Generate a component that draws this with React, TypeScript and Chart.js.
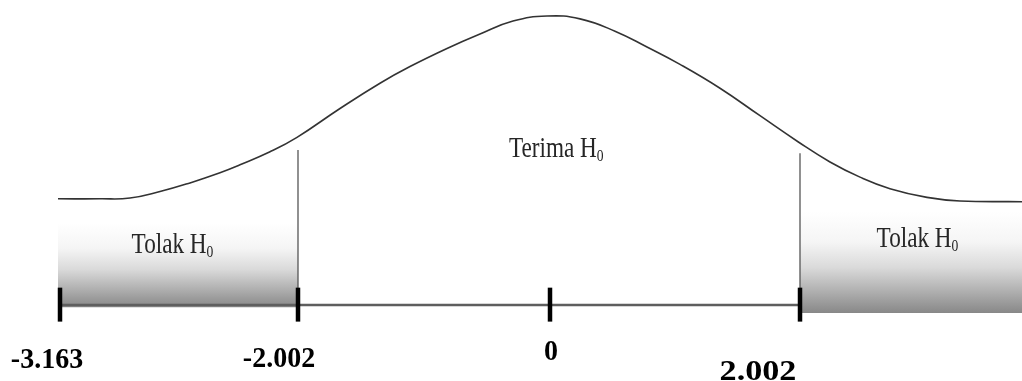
import React, { useEffect, useRef } from "react";
import { Chart, registerables } from "chart.js";

Chart.register(...registerables);

// Curve (z position, density height)
const curveZ = [-3.936, -3.6, -3.36, -3.12, -2.88, -2.64, -2.48, -2.24, -2.024, -1.68, -1.36, -1.12, -0.824, -0.56, -0.296, -0.024, 0.24, 0.52, 0.776, 1.04, 1.36, 1.68, 1.984, 2.24, 2.48, 2.72, 3.016, 3.28, 3.776];
const curveDensity = [0.147, 0.147, 0.148, 0.157, 0.169, 0.183, 0.194, 0.212, 0.232, 0.272, 0.307, 0.330, 0.355, 0.375, 0.393, 0.400, 0.396, 0.379, 0.357, 0.333, 0.300, 0.262, 0.226, 0.198, 0.177, 0.161, 0.149, 0.144, 0.143];

// Axis ticks
const tickZ = [-3.92, -2.016, 0, 2.0];
const tickLabels = ["-3.163", "-2.002", "0", "2.002"];
const tickLabelZ = [-4.024, -2.168, 0.008, 1.664];
const tickLabelLevel = [-0.0872, -0.0858, -0.0761, -0.1038];
const tickLabelStretch = [1, 1, 1, 1.22];
const tickTop = 0.024;
const tickBottom = -0.023;

// Critical boundaries (vertical lines)
const boundaryZ = [-2.016, 2.0];
const boundaryTop = [0.2145, 0.21];

// Rejection regions (shaded)
const regionStart = [-3.936, 2.0];
const regionEnd = [-2.016, 3.8];
const regionTop = [0.1135, 0.129];
const regionBottom = [-0.003, -0.011];

// Region labels
const regionText = ["Tolak H", "Terima H", "Tolak H"];
const regionSub = ["0", "0", "0"];
const regionZ = [-3.02, 0.05, 2.94];
const regionLevel = [0.072, 0.205, 0.08];

const baselineStart = -3.92;
const baselineEnd = 2.0;

const X_MIN = -4.4;
const X_MAX = 3.776;
const Y_MIN = -0.10519;
const Y_MAX = 0.42215;

export default function App() {
  const ref = useRef<HTMLCanvasElement | null>(null);

  useEffect(() => {
    document.body.style.margin = "0";
    const canvas = ref.current;
    if (!canvas) return;

    const datasets: any[] = [];

    regionStart.forEach((s, i) => {
      datasets.push({
        data: [
          { x: s, y: regionTop[i] },
          { x: regionEnd[i], y: regionTop[i] },
        ],
        borderColor: "rgba(0,0,0,0)",
        borderWidth: 0,
        pointRadius: 0,
        fill: { value: regionBottom[i] },
        order: 6,
        backgroundColor: (c: any) => {
          const chart = c.chart;
          const ys = chart.scales?.y;
          if (!ys) return "#bbbbbb";
          const t = ys.getPixelForValue(regionTop[i]);
          const b = ys.getPixelForValue(regionBottom[i]);
          if (!isFinite(t) || !isFinite(b) || t === b) return "#bbbbbb";
          const g = chart.ctx.createLinearGradient(0, t, 0, b);
          g.addColorStop(0, "#ffffff");
          g.addColorStop(0.3, "#f5f5f5");
          g.addColorStop(0.55, "#dadada");
          g.addColorStop(0.8, "#adadad");
          g.addColorStop(1, "#888888");
          return g;
        },
      });
    });

    datasets.push({
      data: [
        { x: baselineStart, y: 0 },
        { x: baselineEnd, y: 0 },
      ],
      borderColor: "#5e5e5e",
      borderWidth: 2.5,
      pointRadius: 0,
      fill: false,
      order: 5,
    });

    boundaryZ.forEach((z, i) => {
      datasets.push({
        data: [
          { x: z, y: 0 },
          { x: z, y: boundaryTop[i] },
        ],
        borderColor: "#555555",
        borderWidth: 1.3,
        pointRadius: 0,
        fill: false,
        order: 4,
      });
    });

    datasets.push({
      data: curveZ.map((z, i) => ({ x: z, y: curveDensity[i] })),
      borderColor: "#333333",
      borderWidth: 1.6,
      pointRadius: 0,
      fill: false,
      tension: 0.45,
      order: 3,
    });

    tickZ.forEach((z) => {
      datasets.push({
        data: [
          { x: z, y: tickBottom },
          { x: z, y: tickTop },
        ],
        borderColor: "#000000",
        borderWidth: 4.5,
        borderCapStyle: "butt",
        pointRadius: 0,
        fill: false,
        order: 1,
      });
    });

    const labelPlugin = {
      id: "labels",
      afterDatasetsDraw(chart: any) {
        const { ctx } = chart;
        const xs = chart.scales.x;
        const ys = chart.scales.y;
        ctx.save();
        // tick labels
        ctx.fillStyle = "#000000";
        ctx.textBaseline = "alphabetic";
        ctx.textAlign = "center";
        ctx.font = "bold 28px 'Liberation Serif', 'Times New Roman', serif";
        tickLabels.forEach((t, i) => {
          const px = xs.getPixelForValue(tickLabelZ[i]);
          const py = ys.getPixelForValue(tickLabelLevel[i]);
          ctx.save();
          ctx.translate(px, py);
          ctx.scale(tickLabelStretch[i], 1.08);
          ctx.fillText(t, 0, 0);
          ctx.restore();
        });
        // region labels
        ctx.fillStyle = "#262626";
        regionText.forEach((t, i) => {
          const px = xs.getPixelForValue(regionZ[i]);
          const py = ys.getPixelForValue(regionLevel[i]);
          ctx.save();
          ctx.translate(px, py);
          ctx.scale(0.8, 1);
          ctx.font = "29px 'Liberation Serif', 'Times New Roman', serif";
          const w1 = ctx.measureText(t).width;
          ctx.font = "17px 'Liberation Serif', 'Times New Roman', serif";
          const w2 = ctx.measureText(regionSub[i]).width;
          const start = -(w1 + w2) / 2;
          ctx.textAlign = "left";
          ctx.font = "29px 'Liberation Serif', 'Times New Roman', serif";
          ctx.fillText(t, start, 0);
          ctx.font = "17px 'Liberation Serif', 'Times New Roman', serif";
          ctx.fillText(regionSub[i], start + w1, 4);
          ctx.restore();
        });
        ctx.restore();
      },
    };

    const chart = new Chart(canvas, {
      type: "scatter",
      data: { datasets },
      options: {
        animation: false,
        responsive: false,
        maintainAspectRatio: false,
        showLine: true,
        layout: { padding: 0 },
        plugins: {
          legend: { display: false },
          tooltip: { enabled: false },
        },
        elements: { point: { radius: 0, hoverRadius: 0 } },
        scales: {
          x: { type: "linear", min: X_MIN, max: X_MAX, display: false },
          y: { type: "linear", min: Y_MIN, max: Y_MAX, display: false },
        },
      } as any,
      plugins: [labelPlugin],
    });

    return () => chart.destroy();
  }, []);

  return (
    <div style={{ width: 1022, height: 381, background: "#ffffff" }}>
      <canvas ref={ref} width={1022} height={381} style={{ display: "block" }} />
    </div>
  );
}
